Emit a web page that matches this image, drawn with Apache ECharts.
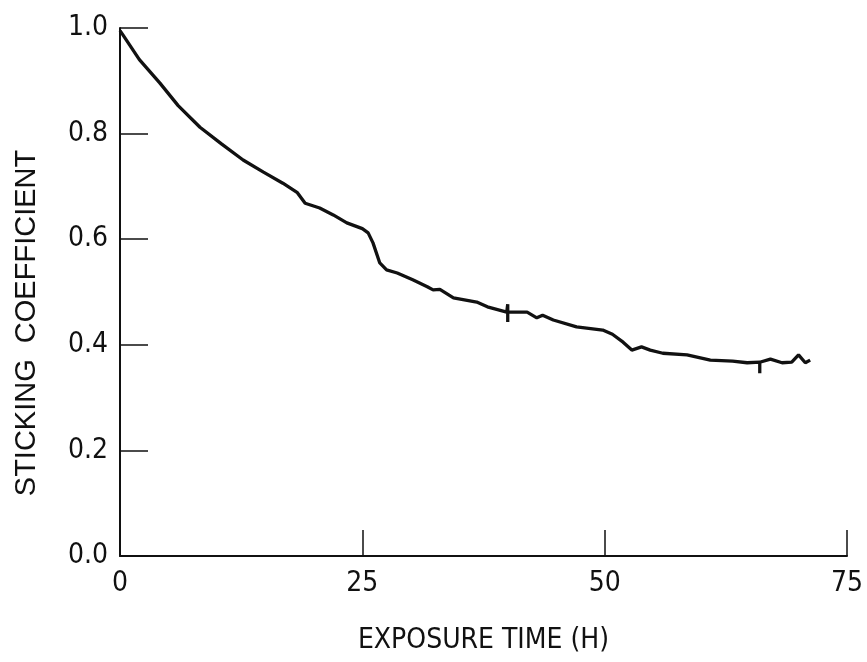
<!DOCTYPE html>
<html>
<head>
<meta charset="utf-8">
<script src="https://cdn.jsdelivr.net/npm/echarts@6/dist/echarts.min.js"></script>
<style>html,body{margin:0;padding:0;background:#fff}#c{width:867px;height:662px}</style>
</head>
<body>
<div id="c"></div>
<script>
const hours = [0, 0.3, 2, 4.1, 6, 8.25, 10.5, 12.7, 14.8, 16.8, 18.3, 19.1, 20.6, 22, 23.4, 25, 25.6, 26.1, 26.8, 27.5, 28.6, 30.2, 31.7, 32.3, 33, 34.4, 36.8, 37.9, 39.9, 40, 40, 40, 40.1, 42, 43, 43.6, 44.7, 47.1, 49.8, 50.8, 51.9, 52.8, 53.8, 54.7, 56, 58.5, 60.9, 63.2, 64.7, 66, 66, 66, 67.1, 68.3, 69.3, 70, 70.7, 71.2];
const sticking = [0.995, 0.987, 0.94, 0.896, 0.853, 0.812, 0.78, 0.75, 0.727, 0.706, 0.688, 0.668, 0.659, 0.646, 0.631, 0.62, 0.612, 0.593, 0.555, 0.542, 0.536, 0.523, 0.51, 0.504, 0.505, 0.489, 0.481, 0.472, 0.462, 0.477, 0.443, 0.462, 0.462, 0.462, 0.451, 0.456, 0.447, 0.434, 0.428, 0.42, 0.405, 0.39, 0.396, 0.39, 0.384, 0.381, 0.371, 0.369, 0.366, 0.367, 0.346, 0.367, 0.373, 0.366, 0.367, 0.381, 0.366, 0.371];
const xTicks = [0, 25, 50, 75];
const yTicks = [0.0, 0.2, 0.4, 0.6, 0.8, 1.0];
const xTitle = 'EXPOSURE TIME (H)';
const yTitle = 'STICKING  COEFFICIENT';

const font = '"DejaVu Sans Condensed","Liberation Sans",sans-serif';
const font2 = '"Liberation Sans",sans-serif';
const chart = echarts.init(document.getElementById('c'), null, {renderer: 'canvas'});
chart.setOption({
  animation: false,
  backgroundColor: '#fff',
  grid: {left: 120, right: 20, top: 28, bottom: 106, containLabel: false},
  xAxis: {
    type: 'value', min: xTicks[0], max: xTicks[xTicks.length - 1], interval: 25,
    name: xTitle, nameLocation: 'middle', nameGap: 71,
    nameTextStyle: {fontFamily: font, fontSize: 28, color: '#111'},
    axisLine: {show: true, lineStyle: {color: '#111', width: 2}},
    axisTick: {show: true, inside: true, length: 26, lineStyle: {color: '#111', width: 1.5}},
    axisLabel: {fontFamily: font, fontSize: 28, color: '#111', margin: 14},
    splitLine: {show: false}
  },
  yAxis: {
    type: 'value', min: yTicks[0], max: yTicks[yTicks.length - 1], interval: 0.2,
    name: yTitle, nameLocation: 'middle', nameGap: 79, nameRotate: 90,
    nameTextStyle: {fontFamily: font2, fontSize: 29, color: '#111', padding: [0, 62, 0, 0]},
    axisLine: {show: true, lineStyle: {color: '#111', width: 2}},
    axisTick: {show: true, inside: true, length: 28, lineStyle: {color: '#111', width: 1.5}},
    axisLabel: {fontFamily: font, fontSize: 28, color: '#111', margin: 12,
      formatter: v => v.toFixed(1)},
    splitLine: {show: false}
  },
  series: [{
    type: 'line',
    data: hours.map((h, i) => [h, sticking[i]]),
    showSymbol: false,
    smooth: false,
    lineStyle: {color: '#111', width: 3.3},
    z: 3
  }]
});
</script>
</body>
</html>
